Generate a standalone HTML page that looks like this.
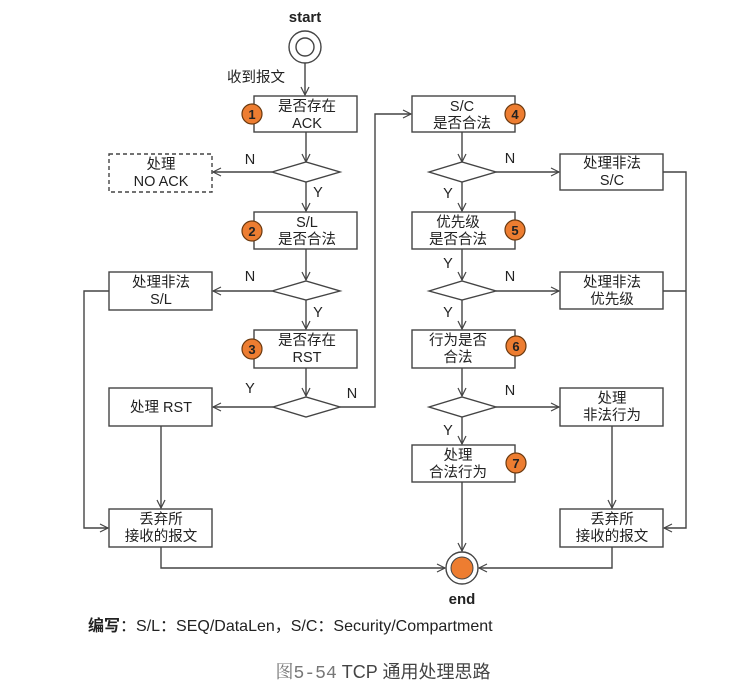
<!DOCTYPE html>
<html><head><meta charset="utf-8"><style>
body{margin:0;background:#fff;}
svg{display:block;font-family:"Liberation Sans","Noto Sans CJK SC",sans-serif;}
</style></head><body>
<svg width="746" height="695" viewBox="0 0 746 695" xmlns="http://www.w3.org/2000/svg">
<defs>
<marker id="a" markerWidth="10" markerHeight="10" refX="9" refY="5" orient="auto" markerUnits="userSpaceOnUse">
<path d="M1,1 L9,5 L1,9" fill="none" stroke="#444" stroke-width="1.2"/></marker>
</defs>
<g stroke="#444" stroke-width="1.4" fill="none">
<circle cx="305" cy="47" r="16" fill="#fff"/>
<circle cx="305" cy="47" r="9"/>
<line x1="305" y1="63" x2="305" y2="95" marker-end="url(#a)"/>
<line x1="306" y1="132" x2="306" y2="162" marker-end="url(#a)"/>
<line x1="272" y1="172" x2="213" y2="172" marker-end="url(#a)"/>
<line x1="306" y1="182" x2="306" y2="211" marker-end="url(#a)"/>
<line x1="306" y1="249" x2="306" y2="280" marker-end="url(#a)"/>
<line x1="272" y1="291" x2="213" y2="291" marker-end="url(#a)"/>
<line x1="306" y1="300" x2="306" y2="329" marker-end="url(#a)"/>
<line x1="306" y1="368" x2="306" y2="396" marker-end="url(#a)"/>
<line x1="273" y1="407" x2="213" y2="407" marker-end="url(#a)"/>
<polyline points="340,407 375,407 375,114 411,114" marker-end="url(#a)"/>
<line x1="161" y1="426" x2="161" y2="508" marker-end="url(#a)"/>
<polyline points="109,291 84,291 84,528 108,528" marker-end="url(#a)"/>
<polyline points="161,547 161,568 445,568" marker-end="url(#a)"/>
<line x1="462" y1="132" x2="462" y2="162" marker-end="url(#a)"/>
<line x1="496" y1="172" x2="559" y2="172" marker-end="url(#a)"/>
<line x1="462" y1="182" x2="462" y2="211" marker-end="url(#a)"/>
<line x1="462" y1="249" x2="462" y2="280" marker-end="url(#a)"/>
<line x1="496" y1="291" x2="559" y2="291" marker-end="url(#a)"/>
<line x1="462" y1="300" x2="462" y2="329" marker-end="url(#a)"/>
<line x1="462" y1="368" x2="462" y2="396" marker-end="url(#a)"/>
<line x1="496" y1="407" x2="559" y2="407" marker-end="url(#a)"/>
<line x1="462" y1="417" x2="462" y2="444" marker-end="url(#a)"/>
<line x1="462" y1="482" x2="462" y2="551" marker-end="url(#a)"/>
<line x1="612" y1="426" x2="612" y2="508" marker-end="url(#a)"/>
<polyline points="663,172 686,172 686,528 664,528" marker-end="url(#a)"/>
<line x1="663" y1="291" x2="686" y2="291"/>
<polyline points="612,547 612,568 479,568" marker-end="url(#a)"/>
<rect x="254" y="96" width="103" height="36" fill="#fff"/>
<rect x="109" y="154" width="103" height="38" fill="#fff" stroke-dasharray="4,3"/>
<rect x="254" y="212" width="103" height="37" fill="#fff"/>
<rect x="109" y="272" width="103" height="38" fill="#fff"/>
<rect x="254" y="330" width="103" height="38" fill="#fff"/>
<rect x="109" y="388" width="103" height="38" fill="#fff"/>
<rect x="109" y="509" width="103" height="38" fill="#fff"/>
<rect x="412" y="96" width="103" height="36" fill="#fff"/>
<rect x="560" y="154" width="103" height="36" fill="#fff"/>
<rect x="412" y="212" width="103" height="37" fill="#fff"/>
<rect x="560" y="272" width="103" height="37" fill="#fff"/>
<rect x="412" y="330" width="103" height="38" fill="#fff"/>
<rect x="560" y="388" width="103" height="38" fill="#fff"/>
<rect x="412" y="445" width="103" height="37" fill="#fff"/>
<rect x="560" y="509" width="103" height="38" fill="#fff"/>
<polygon points="272,172 306,162 340,172 306,182" fill="#fff"/>
<polygon points="272,291 306,281 340,291 306,300" fill="#fff"/>
<polygon points="273,407 306,397 340,407 306,417" fill="#fff"/>
<polygon points="429,172 462,162 496,172 462,182" fill="#fff"/>
<polygon points="429,291 462,281 496,291 462,300" fill="#fff"/>
<polygon points="429,407 462,397 496,407 462,417" fill="#fff"/>
<circle cx="462" cy="568" r="16" fill="#fff"/>
</g>
<circle cx="462" cy="568" r="11" fill="#ed7d31" stroke="#444" stroke-width="1"/>
<g fill="#ed7d31" stroke="#6b3a10" stroke-width="1.2">
<circle cx="252" cy="114" r="10"/><circle cx="252" cy="231" r="10"/><circle cx="252" cy="349" r="10"/>
<circle cx="515" cy="114" r="10"/><circle cx="515" cy="230" r="10"/><circle cx="516" cy="346" r="10"/><circle cx="516" cy="463" r="10"/>
</g>
<g font-size="13" font-weight="bold" fill="#222" text-anchor="middle">
<text x="252" y="119">1</text><text x="252" y="236">2</text><text x="252" y="354">3</text>
<text x="515" y="119">4</text><text x="515" y="235">5</text><text x="516" y="351">6</text><text x="516" y="468">7</text>
</g>
<g font-size="14.5" fill="#222" text-anchor="middle">
<text x="305" y="22" font-weight="bold" font-size="15">start</text>
<text x="256" y="82">收到报文</text>
<text x="307" y="111">是否存在</text><text x="307" y="128">ACK</text>
<text x="161" y="169">处理</text><text x="161" y="186">NO ACK</text>
<text x="307" y="227">S/L</text><text x="307" y="244">是否合法</text>
<text x="161" y="287">处理非法</text><text x="161" y="304">S/L</text>
<text x="307" y="345">是否存在</text><text x="307" y="362">RST</text>
<text x="161" y="412">处理 RST</text>
<text x="161" y="524">丢弃所</text><text x="161" y="541">接收的报文</text>
<text x="462" y="111">S/C</text><text x="462" y="128">是否合法</text>
<text x="612" y="168">处理非法</text><text x="612" y="185">S/C</text>
<text x="458" y="227">优先级</text><text x="458" y="244">是否合法</text>
<text x="612" y="287">处理非法</text><text x="612" y="304">优先级</text>
<text x="458" y="345">行为是否</text><text x="458" y="362">合法</text>
<text x="612" y="403">处理</text><text x="612" y="420">非法行为</text>
<text x="458" y="460">处理</text><text x="458" y="477">合法行为</text>
<text x="612" y="524">丢弃所</text><text x="612" y="541">接收的报文</text>
<text x="462" y="604" font-weight="bold" font-size="15">end</text>
<text x="250" y="164">N</text><text x="318" y="197">Y</text>
<text x="250" y="281">N</text><text x="318" y="317">Y</text>
<text x="250" y="393">Y</text><text x="352" y="398">N</text>
<text x="510" y="163">N</text><text x="448" y="198">Y</text>
<text x="448" y="268">Y</text><text x="510" y="281">N</text><text x="448" y="317">Y</text>
<text x="510" y="395">N</text><text x="448" y="435">Y</text>
</g>
<text x="88" y="631" font-size="16" fill="#222"><tspan font-weight="bold">编写</tspan>：S/L：SEQ/DataLen，S/C：Security/Compartment</text>
<text x="383" y="678" font-size="18" fill="#444" text-anchor="middle"><tspan font-family="'Liberation Mono','Noto Serif CJK SC',serif" fill="#777">图5-54</tspan>   TCP 通用处理思路</text>
</svg>
</body></html>
